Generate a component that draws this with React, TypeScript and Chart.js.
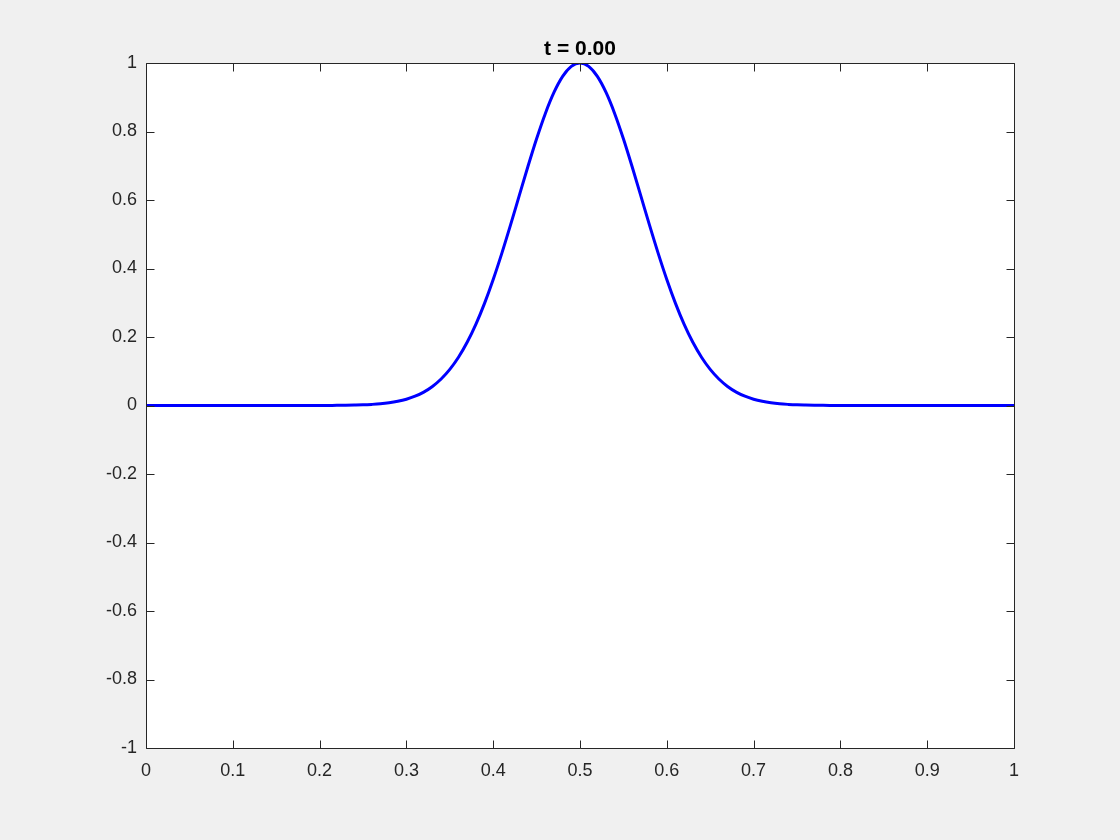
import React, { useEffect, useRef } from "react";
import { Chart, registerables } from "chart.js";

Chart.register(...registerables);

const titleText = "t = 0.00";

const xValues = [
  0, 0.2,
  0.21, 0.22, 0.23, 0.24, 0.25, 0.26, 0.27, 0.28, 0.29, 0.3,
  0.31, 0.32, 0.33, 0.34, 0.35, 0.36, 0.37, 0.38, 0.39, 0.4,
  0.41, 0.42, 0.43, 0.44, 0.45, 0.46, 0.47, 0.48, 0.49, 0.5,
  0.51, 0.52, 0.53, 0.54, 0.55, 0.56, 0.57, 0.58, 0.59, 0.6,
  0.61, 0.62, 0.63, 0.64, 0.65, 0.66, 0.67, 0.68, 0.69, 0.7,
  0.71, 0.72, 0.73, 0.74, 0.75, 0.76, 0.77, 0.78, 0.79, 0.8,
  1,
];

const uValues = [
  0, 0.0,
  0.0002, 0.0004, 0.0007, 0.0012, 0.0019, 0.0032, 0.005, 0.0079, 0.0122, 0.0183,
  0.0271, 0.0392, 0.0556, 0.0773, 0.1054, 0.1409, 0.1845, 0.2369, 0.2982, 0.3679,
  0.4449, 0.5273, 0.6126, 0.6977, 0.7788, 0.8521, 0.9139, 0.9608, 0.99, 1.0,
  0.99, 0.9608, 0.9139, 0.8521, 0.7788, 0.6977, 0.6126, 0.5273, 0.4449, 0.3679,
  0.2982, 0.2369, 0.1845, 0.1409, 0.1054, 0.0773, 0.0556, 0.0392, 0.0271, 0.0183,
  0.0122, 0.0079, 0.005, 0.0032, 0.0019, 0.0012, 0.0007, 0.0004, 0.0002, 0.0,
  0,
];

const xTickValues = [0, 0.1, 0.2, 0.3, 0.4, 0.5, 0.6, 0.7, 0.8, 0.9, 1];
const xTickLabels = ["0", "0.1", "0.2", "0.3", "0.4", "0.5", "0.6", "0.7", "0.8", "0.9", "1"];
const yTickValues = [-1, -0.8, -0.6, -0.4, -0.2, 0, 0.2, 0.4, 0.6, 0.8, 1];
const yTickLabels = ["-1", "-0.8", "-0.6", "-0.4", "-0.2", "0", "0.2", "0.4", "0.6", "0.8", "1"];

const FONT = "'Liberation Sans', Arial, Helvetica, sans-serif";
const AXIS_COLOR = "#262626";

const boxPlugin = {
  id: "matlabBox",
  beforeDraw(chart: any) {
    const { ctx, chartArea } = chart;
    ctx.save();
    ctx.fillStyle = "#f0f0f0";
    ctx.fillRect(0, 0, chart.width, chart.height);
    ctx.fillStyle = "#ffffff";
    ctx.fillRect(chartArea.left, chartArea.top, chartArea.right - chartArea.left, chartArea.bottom - chartArea.top);
    ctx.restore();
  },
  afterDraw(chart: any) {
    const { ctx, chartArea, scales } = chart;
    const l = Math.round(chartArea.left) + 0.5;
    const r = Math.round(chartArea.right) + 0.5;
    const t = Math.round(chartArea.top) + 0.5;
    const b = Math.round(chartArea.bottom) + 0.5;
    const tl = 8;
    ctx.save();
    ctx.strokeStyle = AXIS_COLOR;
    ctx.lineWidth = 1;
    ctx.beginPath();
    ctx.rect(l, t, r - l, b - t);
    ctx.stroke();
    ctx.beginPath();
    xTickValues.forEach((v) => {
      const px = Math.round(scales.x.getPixelForValue(v)) + 0.5;
      ctx.moveTo(px, b);
      ctx.lineTo(px, b - tl);
      ctx.moveTo(px, t);
      ctx.lineTo(px, t + tl);
    });
    yTickValues.forEach((v) => {
      const py = Math.round(scales.y.getPixelForValue(v)) + 0.5;
      ctx.moveTo(l, py);
      ctx.lineTo(l + tl, py);
      ctx.moveTo(r, py);
      ctx.lineTo(r - tl, py);
    });
    ctx.stroke();
    ctx.fillStyle = "#000000";
    ctx.font = `bold 21px ${FONT}`;
    ctx.textAlign = "center";
    ctx.textBaseline = "alphabetic";
    ctx.fillText(titleText, (chartArea.left + chartArea.right) / 2, 55);
    ctx.restore();
  },
};

export default function App() {
  const ref = useRef<HTMLCanvasElement | null>(null);
  useEffect(() => {
    if (!ref.current) return;
    const data = xValues.map((x, i) => ({ x, y: uValues[i] }));
    const chart = new Chart(ref.current, {
      type: "line",
      data: {
        datasets: [
          {
            data,
            borderColor: "#0000ff",
            borderWidth: 3,
            pointRadius: 0,
            fill: false,
            cubicInterpolationMode: "monotone",
          },
        ],
      },
      options: {
        animation: false,
        responsive: false,
        maintainAspectRatio: false,
        layout: { padding: { left: 0, right: 106, top: 63, bottom: 0 } },
        plugins: { legend: { display: false }, tooltip: { enabled: false }, title: { display: false } },
        scales: {
          x: {
            type: "linear",
            min: 0,
            max: 1,
            afterBuildTicks: (scale: any) => {
              scale.ticks = xTickValues.map((v) => ({ value: v }));
            },
            afterFit: (scale: any) => {
              scale.height = 92;
            },
            grid: { display: false, drawTicks: false },
            border: { display: false },
            ticks: {
              padding: 12,
              color: AXIS_COLOR,
              font: { family: FONT, size: 18 },
              maxRotation: 0,
              autoSkip: false,
              callback: (v: any) => {
                const i = xTickValues.findIndex((t) => Math.abs(t - Number(v)) < 1e-9);
                return i >= 0 ? xTickLabels[i] : "";
              },
            },
          },
          y: {
            type: "linear",
            min: -1,
            max: 1,
            afterBuildTicks: (scale: any) => {
              scale.ticks = yTickValues.map((v) => ({ value: v }));
            },
            afterFit: (scale: any) => {
              scale.width = 146;
            },
            grid: { display: false, drawTicks: false },
            border: { display: false },
            ticks: {
              padding: 9,
              color: AXIS_COLOR,
              font: { family: FONT, size: 18 },
              autoSkip: false,
              callback: (v: any) => {
                const i = yTickValues.findIndex((t) => Math.abs(t - Number(v)) < 1e-9);
                return i >= 0 ? yTickLabels[i] : "";
              },
            },
          },
        },
      },
      plugins: [boxPlugin],
    } as any);
    return () => chart.destroy();
  }, []);
  return (
    <div style={{ position: "fixed", left: 0, top: 0, width: 1120, height: 840, background: "#f0f0f0" }}>
      <canvas ref={ref} width={1120} height={840} style={{ display: "block", width: 1120, height: 840 }} />
    </div>
  );
}
